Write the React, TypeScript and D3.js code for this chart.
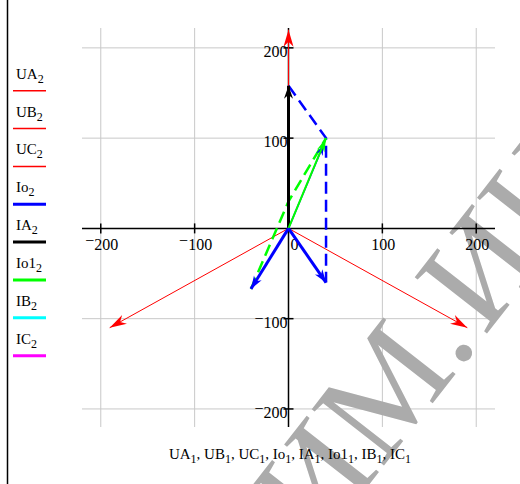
import React, {useEffect, useRef} from "react";
import {line, scaleLinear, select} from "d3";

// phasor traces (x, y)
const UA = [[0, 0], [0, 220]];
const UB = [[0, 0], [-190.5, -110]];
const UC = [[0, 0], [190.5, -110]];
const IA = [[0, 0], [0, 158]];
const IoLeft = [[0, 0], [-40, -67]];
const IoRight = [[0, 0], [40, -60]];
const IoUp = [[0, 0], [0, 30]];
const IoThin = [[0, 0], [37.5, 93]];
const IoDashed = [[0, 158], [40, 100], [40, -60]];
const Io1 = [[0, 0], [40, 100]];
const Io1Dashed = [[-40, -67], [0, 30], [40, 100]];

const xTicks = [-200, -100, 0, 100, 200];
const yTicks = [-200, -100, 100, 200];
const legendNames = ["UA", "UB", "UC", "Io", "IA", "Io1", "IB", "IC"];
const legendColors = ["#ff0000", "#ff0000", "#ff0000", "#0000ff", "#000000", "#00ff00", "#00ffff", "#ff00ff"];
const axisTitle = ["UA", "UB", "UC", "Io", "IA", "Io1", "IB", "IC"];

const serif = "'Liberation Serif', 'Times New Roman', serif";

function App() {
    const svgRef = useRef();

    useEffect(() => {
        const svg = select(svgRef.current);
        svg.selectAll("*").remove();

        const x = scaleLinear().domain([-220, 220]).range([82, 495]);
        const y = scaleLinear().domain([-220, 222]).range([427, 28]);
        const path = line().x(d => x(d[0])).y(d => y(d[1]));

        // left frame line
        svg.append("line").attr("x1", 7.5).attr("x2", 7.5).attr("y1", 0).attr("y2", 484)
            .attr("stroke", "#000").attr("stroke-width", 1.5);

        // grid
        const grid = svg.append("g").attr("stroke", "#c8c8c8").attr("stroke-width", 1);
        grid.selectAll(".gx").data(xTicks.filter(t => t !== 0)).join("line")
            .attr("x1", d => x(d)).attr("x2", d => x(d)).attr("y1", y(222)).attr("y2", y(-220));
        grid.selectAll(".gy").data(yTicks).join("line")
            .attr("y1", d => y(d)).attr("y2", d => y(d)).attr("x1", x(-220)).attr("x2", x(220));

        // watermark (behind the chart marks)
        const wm = svg.append("g").attr("transform", "translate(463,353) rotate(-52)")
            .attr("font-family", serif).attr("font-size", 140)
            .attr("fill", "#ababab");
        wm.append("text").attr("x", 18).attr("y", 7).attr("text-anchor", "end").text("ТИМ.");
        wm.append("text").attr("x", 26).attr("y", 7).text("ИН");

        // axes through origin
        svg.append("line").attr("x1", x(-220)).attr("x2", x(220)).attr("y1", y(0)).attr("y2", y(0))
            .attr("stroke", "#000").attr("stroke-width", 1.5);
        svg.append("line").attr("x1", x(0)).attr("x2", x(0)).attr("y1", y(222)).attr("y2", y(-220))
            .attr("stroke", "#000").attr("stroke-width", 1.5);
        svg.selectAll(".tx").data(xTicks).join("line")
            .attr("x1", d => x(d)).attr("x2", d => x(d)).attr("y1", y(0) - 5).attr("y2", y(0) + 5)
            .attr("stroke", "#000").attr("stroke-width", 1.5);
        svg.selectAll(".ty").data(yTicks).join("line")
            .attr("y1", d => y(d)).attr("y2", d => y(d)).attr("x1", x(0) - 5).attr("x2", x(0) + 5)
            .attr("stroke", "#000").attr("stroke-width", 1.5);

        const minusLabel = (sel, v) => {
            if (v < 0) {
                sel.append("tspan").attr("dy", -4).text("\u2212");
                sel.append("tspan").attr("dy", 4).text(Math.abs(v));
            } else sel.text(v);
        };
        xTicks.forEach(v => {
            const t = svg.append("text").attr("x", v === 0 ? x(0) + 6 : x(v) + 1).attr("y", y(0) + 22)
                .attr("text-anchor", "middle").attr("font-family", serif).attr("font-size", 16);
            minusLabel(t, v);
        });
        yTicks.forEach(v => {
            const t = svg.append("text").attr("x", x(0) - 1).attr("y", y(v) + 9)
                .attr("text-anchor", "end").attr("font-family", serif).attr("font-size", 16);
            minusLabel(t, v);
        });

        const arrow = (from, to, color, len, half) => {
            const x1 = x(from[0]), y1 = y(from[1]), x2 = x(to[0]), y2 = y(to[1]);
            const a = Math.atan2(y2 - y1, x2 - x1);
            const ux = Math.cos(a), uy = Math.sin(a);
            const bx = x2 - ux * len, by = y2 - uy * len;
            const nx = x2 - ux * len * 0.7, ny = y2 - uy * len * 0.7;
            svg.append("polygon")
                .attr("points", [[x2, y2], [bx - uy * half, by + ux * half], [nx, ny], [bx + uy * half, by - ux * half]].join(" "))
                .attr("fill", color);
        };
        const trace = (d, color, w, dash) => svg.append("path").attr("d", path(d)).attr("fill", "none")
            .attr("stroke", color).attr("stroke-width", w).attr("stroke-dasharray", dash || null);

        // voltages
        [UA, UB, UC].forEach(d => {
            trace(d, "#ff0000", 1);
            arrow(d[0], d[1], "#ff0000", 17, 5);
        });
        // dashed construction
        trace(IoDashed, "#0000ff", 2.5, "12 6");
        trace(Io1Dashed, "#00ff00", 2.5, "12 6");
        // currents
        trace(IoThin, "#0000ff", 1.5);
        arrow(IoThin[0], IoThin[1], "#0000ff", 11, 3.5);
        trace(IoUp, "#0000ff", 3);
        trace(IA, "#000000", 3);
        arrow(IA[0], IA[1], "#000000", 13, 4.5);
        trace(Io1, "#00ff00", 2);
        arrow(Io1[0], Io1[1], "#00ff00", 14, 4);
        [IoLeft, IoRight].forEach(d => {
            trace(d, "#0000ff", 3);
            arrow(d[0], d[1], "#0000ff", 13, 4.5);
        });

        // legend
        legendNames.forEach((n, i) => {
            const ly = 90.7 + i * 37.85;
            const t = svg.append("text").attr("x", 16).attr("y", ly - 12)
                .attr("font-family", serif).attr("font-size", 15);
            t.append("tspan").text(n);
            t.append("tspan").attr("dy", 4).attr("font-size", 12).text("2");
            svg.append("line").attr("x1", 13).attr("x2", 46).attr("y1", ly).attr("y2", ly)
                .attr("stroke", legendColors[i]).attr("stroke-width", i < 3 ? 1.5 : 3);
        });

        // axis title
        const title = svg.append("text").attr("x", 290).attr("y", 459).attr("text-anchor", "middle")
            .attr("font-family", serif).attr("font-size", 15);
        axisTitle.forEach((n, i) => {
            title.append("tspan").attr("dy", i === 0 ? 0 : -4).text((i === 0 ? "" : ", ") + n);
            title.append("tspan").attr("dy", 4).attr("font-size", 12).text("1");
        });
    }, []);

    return (
        <svg ref={svgRef} width={520} height={484}
             style={{position: "absolute", left: 0, top: 0, background: "#fff"}}/>
    );
}

export default App;
